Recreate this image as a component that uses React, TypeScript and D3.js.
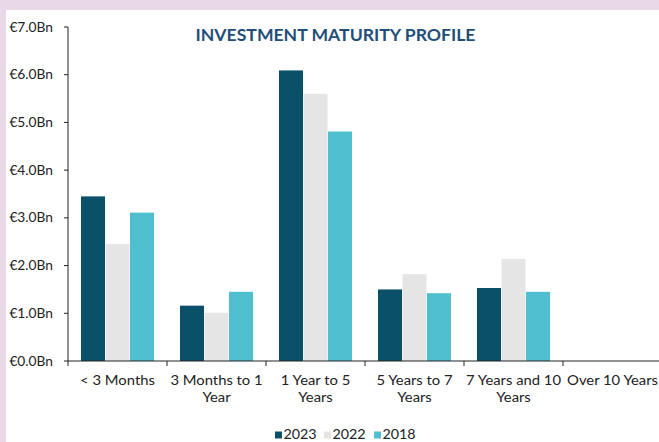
import React from "react";
import * as d3 from "d3";

const categories = ["< 3 Months", "3 Months to 1 Year", "1 Year to 5 Years", "5 Years to 7 Years", "7 Years and 10 Years", "Over 10 Years"];
const categoryLines = [["< 3 Months"], ["3 Months to 1", "Year"], ["1 Year to 5", "Years"], ["5 Years to 7", "Years"], ["7 Years and 10", "Years"], ["Over 10 Years"]];
const seriesNames = ["2023", "2022", "2018"];
const values2023 = [3.45, 1.16, 6.09, 1.5, 1.53, 0];
const values2022 = [2.45, 1.01, 5.6, 1.82, 2.14, 0];
const values2018 = [3.11, 1.45, 4.81, 1.42, 1.45, 0];
const yTicks = [0, 1, 2, 3, 4, 5, 6, 7];
const colors = ["#0b5069", "#e5e5e5", "#4fbfd0"];

const W = 659, H = 442;
const font = "Lato, 'Open Sans', sans-serif";

function SText({ x, y, sx, anchor, size, children }: any) {
  return (
    <text transform={`translate(${x},${y}) scale(${sx},1)`} textAnchor={anchor} fontFamily={font} fontSize={size} fill="#222">{children}</text>
  );
}

export default function App() {
  const seriesVals = [values2023, values2022, values2018];
  const x = d3.scaleBand().domain(categories).range([68, 662]).paddingInner(0).paddingOuter(0);
  const xi = d3.scaleBand().domain(seriesNames).range([0, x.bandwidth()]).paddingOuter(0.53).paddingInner(0.02);
  const y = d3.scaleLinear().domain([0, 7]).range([361, 27]);
  const legendX = [275, 324, 374];
  return (
    <svg width={W} height={H} style={{ position: "absolute", left: 0, top: 0 }}>
      <rect x={0} y={0} width={W} height={H} fill="#e8d8e8" />
      <rect x={6} y={10} width={W - 6} height={H - 10} fill="#ffffff" />
      <text x={335.5} y={41} textAnchor="middle" fontFamily={font} fontWeight="bold" fontSize={17.6} fill="#1f4e79">INVESTMENT MATURITY PROFILE</text>
      {categories.map((c, ci) => seriesVals.map((vals, si) => (
        <rect key={c + si} x={(x(c) || 0) + (xi(seriesNames[si]) || 0)} y={y(vals[ci])} width={xi.bandwidth()} height={y(0) - y(vals[ci])} fill={colors[si]} />
      )))}
      <line x1={68} x2={68} y1={y(7)} y2={y(0)} stroke="#222" strokeWidth={1} />
      <line x1={68} x2={W} y1={y(0)} y2={y(0)} stroke="#222" strokeWidth={1} />
      {yTicks.map(t => (
        <g key={t}>
          <line x1={64} x2={68} y1={y(t)} y2={y(t)} stroke="#222" />
          <SText x={53} y={y(t) + 4.5} sx={1.06} anchor="end" size={13}>{"€" + t.toFixed(1) + "Bn"}</SText>
        </g>
      ))}
      {categories.map((c, ci) => (
        <g key={c}>
          <line x1={x(c)} x2={x(c)} y1={y(0)} y2={y(0) + 5} stroke="#222" />
          {categoryLines[ci].map((ln, li) => (
            <SText key={li} x={(x(c) || 0) + x.bandwidth() / 2} y={385 + li * 17} sx={1.14} anchor="middle" size={13}>{ln}</SText>
          ))}
        </g>
      ))}
      {seriesNames.map((s, i) => (
        <g key={s}>
          <rect x={legendX[i]} y={431.5} width={7} height={7} fill={colors[i]} />
          <SText x={legendX[i] + 8.5} y={439} sx={1.1} anchor="start" size={13}>{s}</SText>
        </g>
      ))}
    </svg>
  );
}
